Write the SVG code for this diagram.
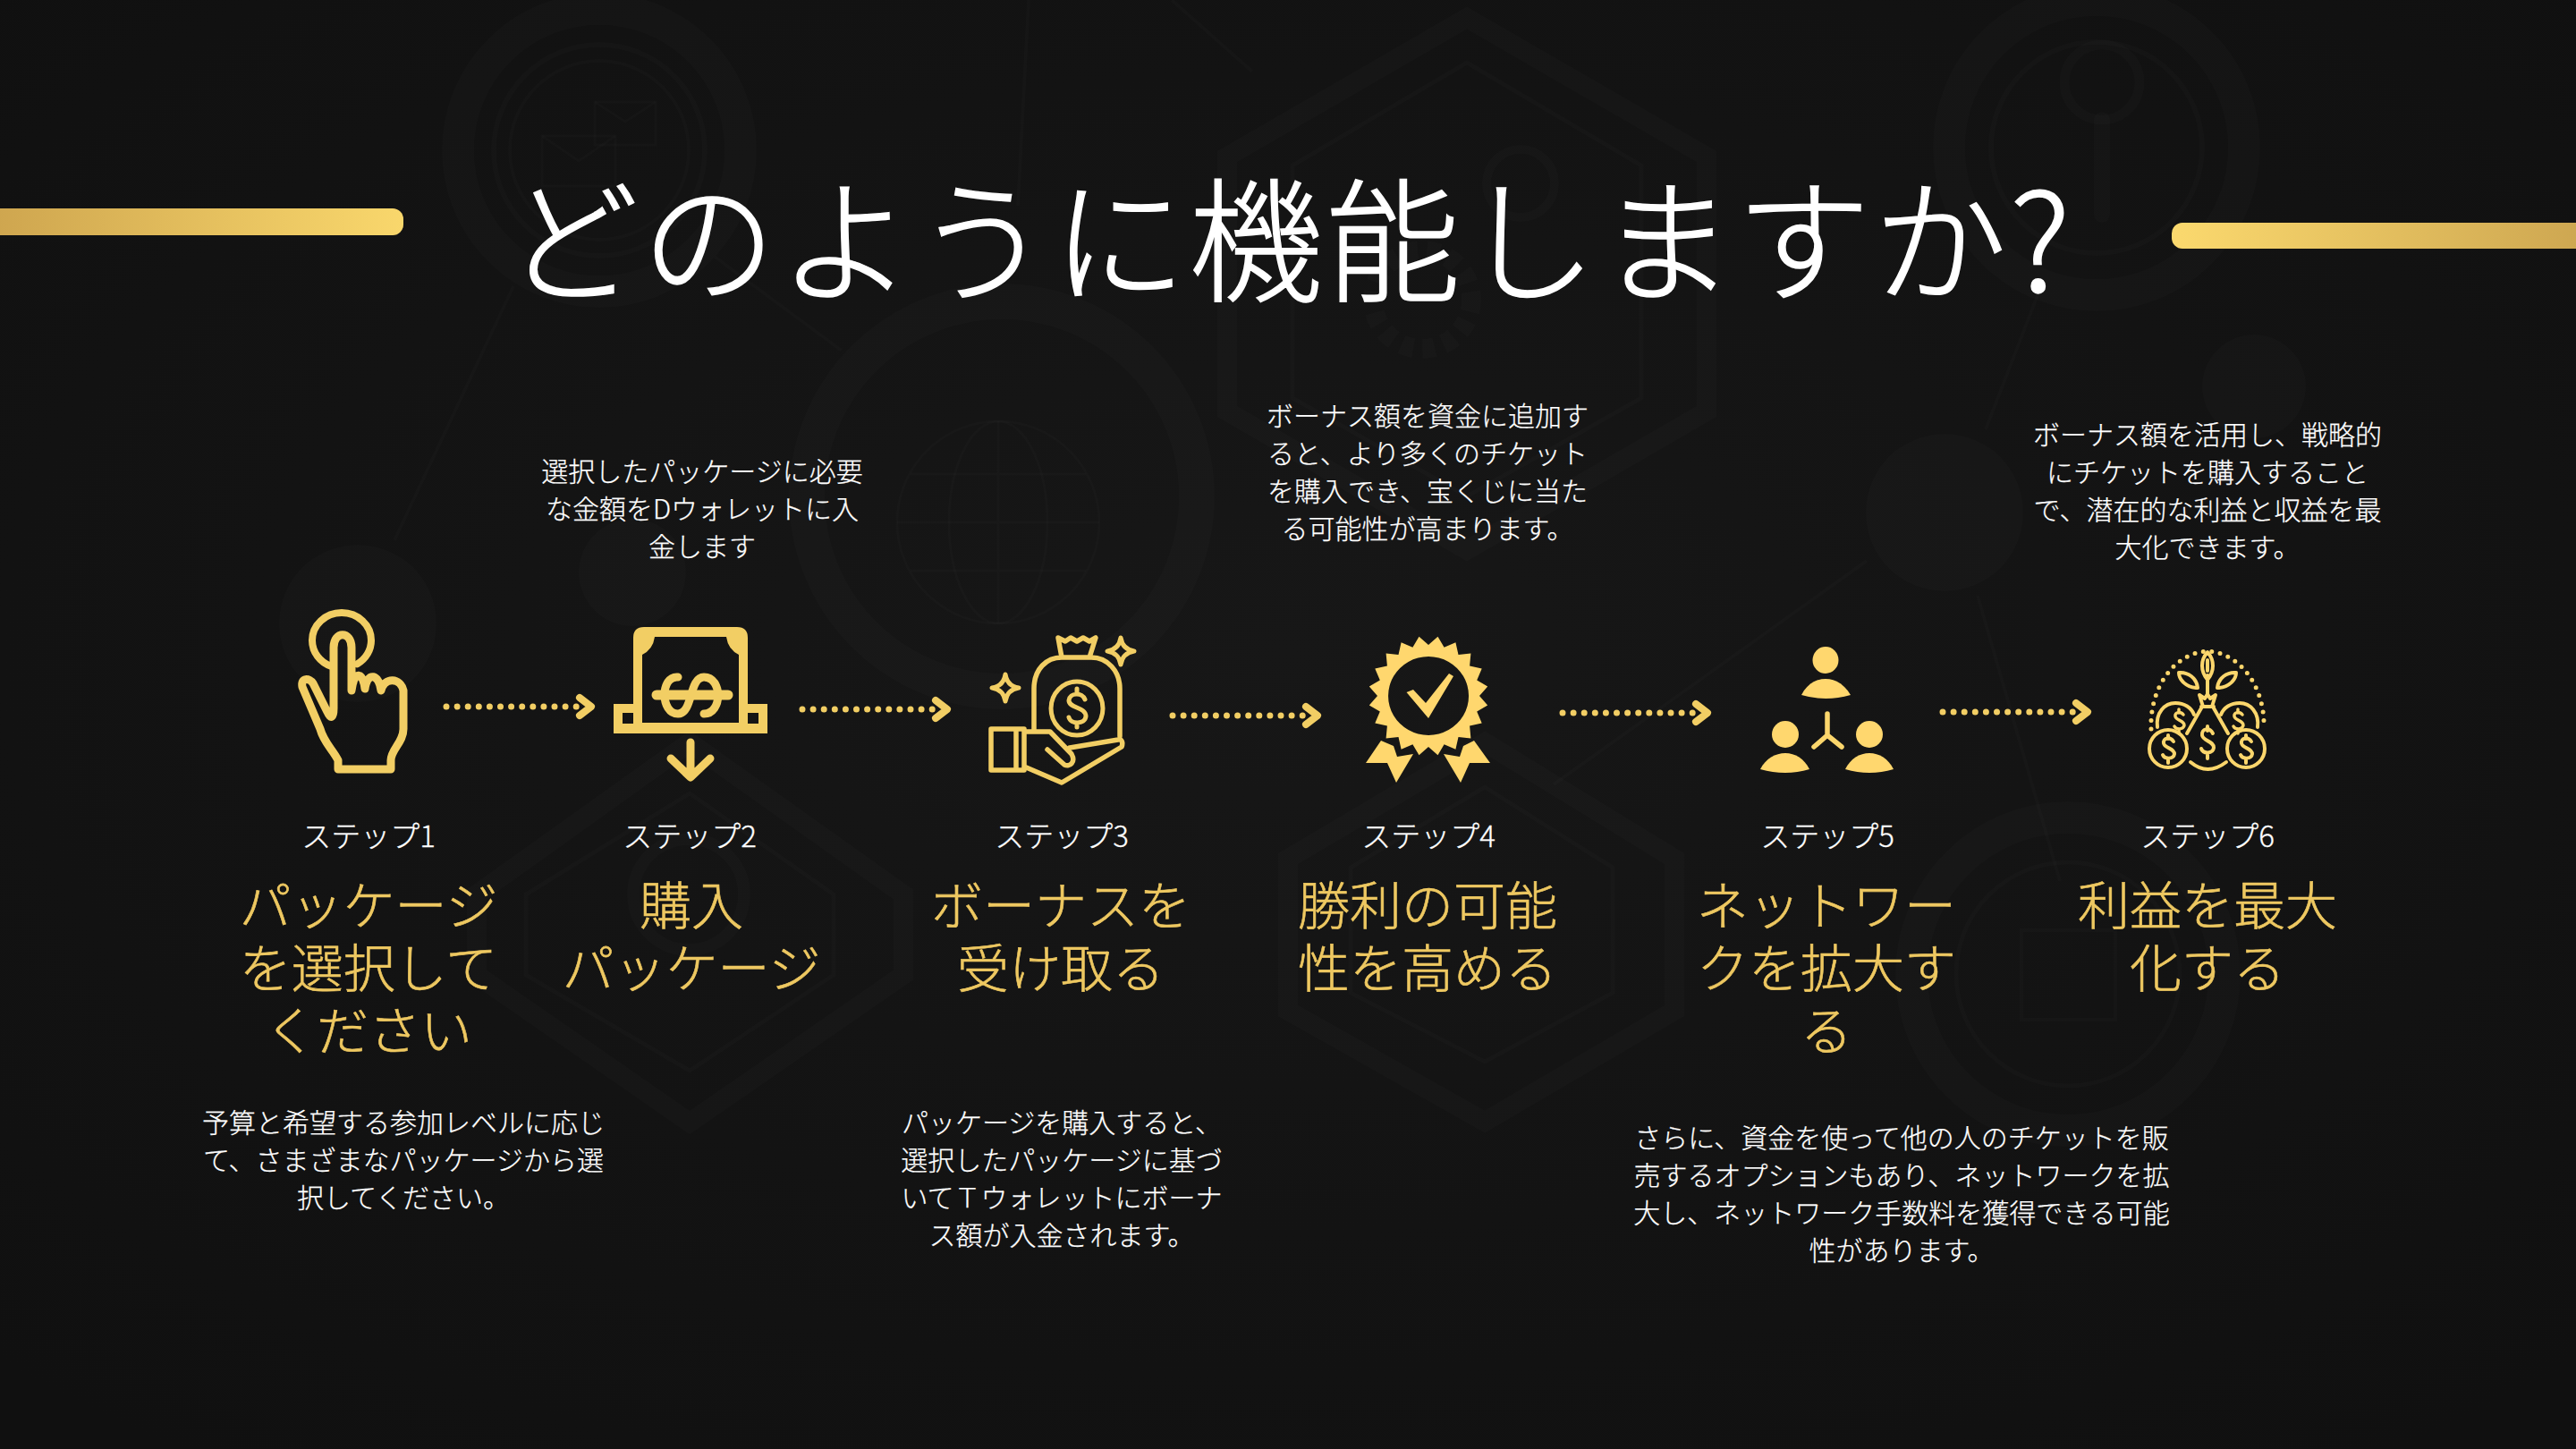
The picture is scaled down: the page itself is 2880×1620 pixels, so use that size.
<svg xmlns="http://www.w3.org/2000/svg" width="2880" height="1620" viewBox="0 0 2880 1620">
<style>
text{font-family:"Noto Sans CJK JP","Noto Sans",sans-serif;text-anchor:middle;font-weight:300}
.title{font-size:150px;fill:#fff;stroke:#fff;stroke-width:1.5px;letter-spacing:3px}
.label{font-size:33px;fill:#fff;stroke:#fff;stroke-width:.3px}
.head{font-size:58px;fill:#EEC861;stroke:#EEC861;stroke-width:.6px}
.body{font-size:30px;fill:#fff;stroke:#fff;stroke-width:.25px}
.i1{fill:none;stroke:#F2CE64;stroke-linecap:round;stroke-linejoin:round}
.i2{fill:none;stroke:#FBD66C;stroke-linecap:round;stroke-linejoin:round}
.f1{fill:#F2CE64}
.f2{fill:#FFD76E}
.dots{fill:none;stroke:#F2CE64;stroke-width:7;stroke-linecap:round;stroke-dasharray:0 12.1;marker-end:url(#chev)}
.bgs{fill:none;stroke:#fff;stroke-opacity:.016}
.bgf{fill:#fff;fill-opacity:.014}
</style>
<defs>
<radialGradient id="bg" cx="50%" cy="45%" r="70%"><stop offset="0" stop-color="#171717"/><stop offset="1" stop-color="#101010"/></radialGradient>
<linearGradient id="barL" x1="0" x2="1" y1="0" y2="0"><stop offset="0" stop-color="#CDA44E"/><stop offset="1" stop-color="#F9D76C"/></linearGradient>
<linearGradient id="barR" x1="0" x2="1" y1="0" y2="0"><stop offset="0" stop-color="#FBD96E"/><stop offset="1" stop-color="#CCA550"/></linearGradient>
<marker id="chev" markerUnits="userSpaceOnUse" markerWidth="40" markerHeight="40" overflow="visible" orient="auto"><path d="M3,-10 L16,0 L3,10" fill="none" stroke="#F2CE64" stroke-width="8" stroke-linecap="round" stroke-linejoin="round"/></marker>
</defs>
<rect width="2880" height="1620" fill="url(#bg)"/>
<g id="background">
<circle class="bgs" cx="670" cy="168" r="158" stroke-width="36"/>
<circle class="bgs" cx="670" cy="168" r="118" stroke-width="6"/>
<circle class="bgs" cx="670" cy="168" r="100" stroke-width="4"/>
<rect class="bgs" x="665" y="114" width="68" height="48" stroke-width="3"/><path class="bgs" d="M665,114 L699,136 L733,114" stroke-width="3"/>
<rect class="bgs" x="606" y="152" width="82" height="56" stroke-width="3"/><path class="bgs" d="M606,152 L647,180 L688,152" stroke-width="3"/>
<circle class="bgs" cx="1120" cy="555" r="218" stroke-width="40"/>
<circle class="bgs" cx="1116" cy="584" r="113" stroke-width="3"/>
<ellipse class="bgs" cx="1116" cy="584" rx="55" ry="113" stroke-width="3"/>
<path class="bgs" d="M1116,471V697M1003,584H1229M1018,530H1214M1018,638H1214" stroke-width="3"/>
<path class="bgs" d="M1640,20L1908,175V460L1640,615L1372,460V175Z" stroke-width="22"/>
<path class="bgs" d="M1640,70L1835,185V445L1640,555L1445,445V185Z" stroke-width="5"/>
<circle class="bgs" cx="1700" cy="205" r="38" stroke-width="10"/>
<circle class="bgs" cx="1590" cy="335" r="55" stroke-width="22" stroke-dasharray="14 10"/>
<circle class="bgs" cx="2344" cy="165" r="165" stroke-width="36"/>
<circle class="bgs" cx="2344" cy="165" r="118" stroke-width="6"/>
<circle class="bgs" cx="2350" cy="92" r="42" stroke-width="11"/><path class="bgs" d="M2350,134V240" stroke-width="18" stroke-linecap="round"/>
<circle class="bgf" cx="400" cy="697" r="88"/><circle class="bgf" cx="707" cy="640" r="60"/>
<circle class="bgf" cx="2174" cy="573" r="88"/><circle class="bgf" cx="2520" cy="432" r="58"/>
<path class="bgs" d="M574,320L441,604M799,287L941,392M1150,0L1138,230M1310,0L1400,80M2280,325L2220,480M2087,627L1737,877M2211,666L2303,985" stroke-width="4"/>
<path class="bgs" d="M771,830L1010,1000V1090L771,1255L533,1090V1000Z" stroke-width="22"/>
<path class="bgs" d="M771,887L932,1000V1090L771,1197L588,1090V1000Z" stroke-width="5"/>
<circle class="bgs" cx="770" cy="1000" r="62" stroke-width="14"/>
<path class="bgs" d="M1660,830L1872,960V1130L1660,1254L1440,1130V960Z" stroke-width="22"/>
<path class="bgs" d="M1660,880L1803,970V1110L1660,1187L1510,1110V970Z" stroke-width="5"/>
<circle class="bgs" cx="2312" cy="1089" r="175" stroke-width="36"/>
<circle class="bgs" cx="2312" cy="1089" r="125" stroke-width="5"/>
<rect class="bgs" x="2260" y="1040" width="105" height="100" stroke-width="4"/>
</g>
<rect id="bar-left" x="-20" y="233" width="471" height="30" rx="12" fill="url(#barL)"/>
<rect id="bar-right" x="2428" y="249" width="472" height="29" rx="12" fill="url(#barR)"/>
<text id="title" class="title" x="1441" y="326">どのように機能しますか?</text>

<g id="connectors">
<path class="dots" d="M499,790H645"/>
<path class="dots" d="M897,793H1043"/>
<path class="dots" d="M1311,800H1457"/>
<path class="dots" d="M1747,797H1893"/>
<path class="dots" d="M2172,796H2318"/>
</g>

<g id="step1">
<ellipse class="i1" cx="382" cy="716" rx="33" ry="31" stroke-width="8" stroke-dasharray="165 30" stroke-dashoffset="-62"/>
<path class="i1" stroke-width="9" d="M378,860V850C372,838 362,830 358,815L338,768C336,757 346,758 350,764L366,796C370,805 373,802 373,792V724C373,705 393,705 393,724V772C396,748 406,752 408,770C411,750 424,754 426,772C430,756 448,758 451,772V815C451,830 437,838 437,850V860Z"/>
<text class="label" x="412" y="947">ステップ1</text>
<text class="head"><tspan x="412" y="1034">パッケージ</tspan><tspan x="412" y="1104">を選択して</tspan><tspan x="412" y="1174">ください</tspan></text>
<text class="body"><tspan x="451" y="1266">予算と希望する参加レベルに応じ</tspan><tspan x="451" y="1308">て、さまざまなパッケージから選</tspan><tspan x="451" y="1350">択してください。</tspan></text>
</g>

<g id="step2">
<path class="f1" fill-rule="evenodd" d="M708,787V713Q708,701 720,701H824Q836,701 836,713V787H858V820H686V787ZM718,712V808H826V712ZM696,797V809H708V797ZM836,797V809H848V797Z"/>
<path class="f1" d="M718,712H732Q730,726 718,732ZM826,712H812Q814,726 826,732Z"/>
<path class="i1" stroke-width="9" d="M758,757C738,755 738,798 758,798C775,798 770,757 787,757C808,757 808,798 787,798"/>
<path class="i1" stroke-width="11" d="M734,777H814"/>
<path class="i1" stroke-width="9" d="M772,830V868M750,848L772,869L794,848"/>
<text class="label" x="771" y="947">ステップ2</text>
<text class="head"><tspan x="773" y="1034">購入</tspan><tspan x="773" y="1104">パッケージ</tspan></text>
<text class="body"><tspan x="785" y="538">選択したパッケージに必要</tspan><tspan x="785" y="580">な金額をDウォレットに入</tspan><tspan x="785" y="622">金します</tspan></text>
</g>

<g id="step3">
<path class="i1" stroke-width="5.500" d="M1187,735L1183,713L1191,717L1197,713L1204,717L1211,713L1218,717L1225,713L1218,735M1156,817V770C1156,748 1170,735 1187,735H1220C1238,735 1252,750 1252,770V823"/>
<ellipse class="i1" cx="1204" cy="792" rx="29" ry="30" stroke-width="5"/>
<path class="i1" stroke-width="5" d="M1213,782C1210,774 1196,774 1195,783C1195,792 1214,790 1214,801C1213,810 1197,810 1195,802M1204,770V775M1204,808V813"/>
<path class="i1" stroke-width="5.500" d="M1108,815H1145V861H1108ZM1136,815V861M1145,818H1174L1198,843C1203,852 1196,858 1190,855L1171,838M1145,857L1187,875L1254,835C1256,830 1254,826 1250,827L1196,836"/>
<path class="i1" stroke-width="5" d="M1253,713Q1255,726 1268,728Q1255,730 1253,743Q1251,730 1238,728Q1251,726 1253,713ZM1124,754Q1126,767 1139,769Q1126,771 1124,784Q1122,771 1109,769Q1122,767 1124,754Z"/>
<text class="label" x="1187" y="947">ステップ3</text>
<text class="head"><tspan x="1186" y="1034">ボーナスを</tspan><tspan x="1186" y="1104">受け取る</tspan></text>
<text class="body"><tspan x="1187" y="1266">パッケージを購入すると、</tspan><tspan x="1187" y="1308">選択したパッケージに基づ</tspan><tspan x="1187" y="1350">いてＴウォレットにボーナ</tspan><tspan x="1187" y="1392">ス額が入金されます。</tspan></text>
</g>

<g id="step4">
<path class="f2" fill-rule="evenodd" d="M1597,721L1607.500,711.800L1614.600,723.800L1627.400,718.300L1630.500,731.900L1644.400,730.600L1643.100,744.500L1656.700,747.600L1651.200,760.400L1663.200,767.500L1654,778L1663.200,788.500L1651.200,795.600L1656.700,808.400L1643.100,811.500L1644.400,825.400L1630.500,824.100L1627.400,837.700L1614.600,832.200L1607.500,844.200L1597,835L1586.500,844.200L1579.400,832.200L1566.600,837.700L1563.500,824.100L1549.600,825.400L1550.900,811.500L1537.300,808.400L1542.800,795.600L1530.800,788.500L1540,778L1530.800,767.500L1542.800,760.400L1537.300,747.600L1550.900,744.500L1549.600,730.600L1563.500,731.900L1566.600,718.300L1579.400,723.800L1586.500,711.800ZM1597,734A45,44 0 1 0 1597.100,734Z"/>
<path class="f2" d="M1572.500,774L1580,771L1594,786L1620,753L1625,756L1597,803Z"/>
<path class="f2" d="M1544,828L1527,853L1551,853L1561,875L1580,843L1562,846L1558,834ZM1648,828L1666,853L1643,853L1633,875L1614,843L1632,846L1636,834Z"/>
<text class="label" x="1597" y="947">ステップ4</text>
<text class="head"><tspan x="1596" y="1034">勝利の可能</tspan><tspan x="1596" y="1104">性を高める</tspan></text>
<text class="body"><tspan x="1596" y="476">ボーナス額を資金に追加す</tspan><tspan x="1596" y="518">ると、より多くのチケット</tspan><tspan x="1596" y="560">を購入でき、宝くじに当た</tspan><tspan x="1596" y="602">る可能性が高まります。</tspan></text>
</g>

<g id="step5">
<ellipse class="f2" cx="2041" cy="738" rx="14.500" ry="15"/>
<path class="f2" d="M2014,777C2020,765 2030,759 2041,759C2052,759 2062,765 2069,777Q2041,785 2014,777Z"/>
<ellipse class="f2" cx="1996" cy="821" rx="15" ry="15"/>
<path class="f2" d="M1968,860C1974,848 1985,842 1996,842C2007,842 2017,848 2023,860Q1996,868 1968,860Z"/>
<ellipse class="f2" cx="2090" cy="821" rx="15" ry="15"/>
<path class="f2" d="M2063,860C2069,848 2079,842 2090,842C2101,842 2111,848 2117,860Q2090,868 2063,860Z"/>
<path class="i2" stroke-width="5.500" d="M2043,798V822L2028,835M2043,822L2059,835"/>
<text class="label" x="2043" y="947">ステップ5</text>
<text class="head"><tspan x="2042" y="1034">ネットワー</tspan><tspan x="2042" y="1104">クを拡大す</tspan><tspan x="2042" y="1174">る</tspan></text>
<text class="body"><tspan x="2126" y="1283">さらに、資金を使って他の人のチケットを販</tspan><tspan x="2126" y="1325">売するオプションもあり、ネットワークを拡</tspan><tspan x="2126" y="1367">大し、ネットワーク手数料を獲得できる可能</tspan><tspan x="2126" y="1409">性があります。</tspan></text>
</g>

<g id="step6">
<path class="i2" stroke-width="5" stroke-dasharray="0 9.500" d="M2405,815C2403,770 2430,730 2468,728C2506,730 2533,770 2531,815"/>
<circle class="i2" cx="2424" cy="837" r="21" stroke-width="4"/>
<circle class="i2" cx="2511" cy="837" r="21" stroke-width="4"/>
<path class="i2" stroke-width="4" d="M2430,829C2426,823 2418,825 2419,831C2420,837 2431,836 2431,843C2430,849 2420,849 2418,844M2424,822V826M2424,849V853M2517,829C2513,823 2505,825 2506,831C2507,837 2518,836 2518,843C2517,849 2507,849 2505,844M2511,822V826M2511,849V853"/>
<path class="i2" stroke-width="4" d="M2474,820C2470,812 2461,815 2462,822C2463,829 2475,828 2475,836C2474,843 2463,843 2461,837M2468,812V817M2468,843V848"/>
<path class="i2" stroke-width="3.500" d="M2441,799C2438,795 2431,796 2432,801C2433,806 2442,805 2442,811C2441,816 2433,816 2431,812M2436,793V797M2436,816V820M2507,799C2504,795 2497,796 2498,801C2499,806 2508,805 2508,811C2507,816 2499,816 2497,812M2502,793V797M2502,816V820"/>
<path class="i2" stroke-width="4" d="M2412,813C2410,797 2420,786 2432,786C2442,786 2450,791 2453,799M2524,813C2526,797 2516,786 2504,786C2494,786 2486,791 2483,799"/>
<path class="i2" stroke-width="4" d="M2445,820L2462,790M2491,820L2474,790M2461,790H2475M2463,790L2459,777L2465,781L2468,776L2471,781L2477,777L2473,790M2449,852Q2468,868 2489,852"/>
<path class="i2" stroke-width="4" d="M2468,776V755M2468,729C2460,738 2460,750 2468,760C2476,750 2476,738 2468,729ZM2468,738V750M2455,769C2444,768 2436,760 2436,752C2446,751 2456,758 2457,769ZM2481,769C2492,768 2500,760 2500,752C2490,751 2480,758 2479,769Z"/>
<text class="label" x="2468" y="947">ステップ6</text>
<text class="head"><tspan x="2468" y="1034">利益を最大</tspan><tspan x="2468" y="1104">化する</tspan></text>
<text class="body"><tspan x="2468" y="497">ボーナス額を活用し、戦略的</tspan><tspan x="2468" y="539">にチケットを購入すること</tspan><tspan x="2468" y="581">で、潜在的な利益と収益を最</tspan><tspan x="2468" y="623">大化できます。</tspan></text>
</g>
</svg>
